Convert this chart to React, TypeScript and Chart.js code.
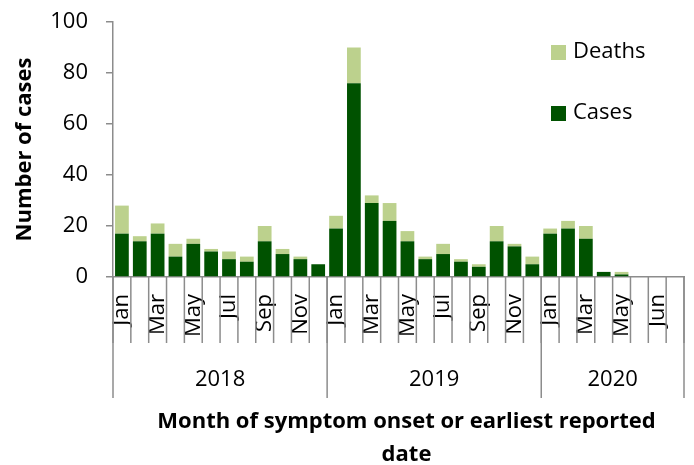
import React, { useEffect, useRef } from "react";
import { Chart, registerables } from "chart.js";

Chart.register(...registerables);

const monthLabels = [
  "Jan", "Feb", "Mar", "Apr", "May", "Jun", "Jul", "Aug", "Sep", "Oct", "Nov", "Dec",
  "Jan", "Feb", "Mar", "Apr", "May", "Jun", "Jul", "Aug", "Sep", "Oct", "Nov", "Dec",
  "Jan", "Feb", "Mar", "Apr", "May", "", "Jun", "",
];
const yearLabels = ["2018", "2019", "2020"];
const yearSpans = [12, 12, 8];

const cases = [
  17, 14, 17, 8, 13, 10, 7, 6, 14, 9, 7, 5,
  19, 76, 29, 22, 14, 7, 9, 6, 4, 14, 12, 5,
  17, 19, 15, 2, 1, 0, 0, 0,
];
const deaths = [
  11, 2, 4, 5, 2, 1, 3, 2, 6, 2, 1, 0,
  5, 14, 3, 7, 4, 1, 4, 1, 1, 6, 1, 3,
  2, 3, 5, 0, 1, 0, 0, 0,
];

const yTicks = { min: 0, max: 100, step: 20 };
const yTitle = "Number of cases";
const xTitle = ["Month of symptom onset or earliest reported", "date"];

const FONT = "'Open Sans', sans-serif";
const AXIS = "#8c8c8c";
const CASES_COLOR = "#005200";
const DEATHS_COLOR = "#bcd18d";

const groupPlugin = {
  id: "groupAxis",
  afterDraw(chart: any) {
    const ctx = chart.ctx;
    const xs = chart.scales.x;
    const area = chart.chartArea;
    const n = monthLabels.length;
    const catW = (xs.right - xs.left) / n;
    const base = area.bottom;
    ctx.save();
    ctx.strokeStyle = AXIS;
    ctx.lineWidth = 1.5;
    for (let i = 0; i <= n; i++) {
      const x = xs.left + i * catW;
      ctx.beginPath();
      ctx.moveTo(x, base);
      ctx.lineTo(x, base + 66);
      ctx.stroke();
    }
    ctx.fillStyle = "#000";
    ctx.font = `22px ${FONT}`;
    ctx.textAlign = "center";
    ctx.textBaseline = "middle";
    const bounds = [0];
    yearSpans.forEach((s) => bounds.push(bounds[bounds.length - 1] + s));
    bounds.forEach((b) => {
      const x = xs.left + b * catW;
      ctx.beginPath();
      ctx.moveTo(x, base);
      ctx.lineTo(x, base + 121);
      ctx.stroke();
    });
    yearLabels.forEach((y, k) => {
      const x0 = xs.left + bounds[k] * catW;
      const x1 = xs.left + bounds[k + 1] * catW;
      ctx.fillText(y, (x0 + x1) / 2, base + 103);
    });
    ctx.font = `bold 22px ${FONT}`;
    const cx = (area.left + area.right) / 2 + 8;
    xTitle.forEach((t, i) => {
      ctx.fillText(t, cx, base + 145 + i * 33);
    });
    ctx.font = `22px ${FONT}`;
    ctx.textAlign = "left";
    const items = [chart.data.datasets[1], chart.data.datasets[0]];
    items.forEach((ds: any, i: number) => {
      const lx = area.right - 133;
      const ly = area.top + 23 + i * 61;
      ctx.fillStyle = ds.backgroundColor;
      ctx.fillRect(lx, ly, 15, 15);
      ctx.fillStyle = "#000";
      ctx.fillText(ds.label, lx + 22, ly + 7);
    });
    ctx.restore();
  },
};

export default function App() {
  const ref = useRef<HTMLCanvasElement>(null);
  useEffect(() => {
    if (!ref.current) return;
    Chart.defaults.font.family = FONT;
    Chart.defaults.color = "#000";
    const chart = new Chart(ref.current, {
      type: "bar",
      data: {
        labels: monthLabels,
        datasets: [
          {
            label: "Cases",
            data: cases,
            backgroundColor: CASES_COLOR,
            barPercentage: 0.77,
            categoryPercentage: 1,
          },
          {
            label: "Deaths",
            data: deaths,
            backgroundColor: DEATHS_COLOR,
            barPercentage: 0.77,
            categoryPercentage: 1,
          },
        ],
      },
      options: {
        responsive: false,
        animation: false,
        layout: { padding: { top: 22, right: 10, left: 0, bottom: 0 } },
        plugins: { legend: { display: false }, tooltip: { enabled: false } },
        scales: {
          x: {
            stacked: true,
            afterFit: (s: any) => {
              s.height = 188;
              s.paddingLeft = 0;
              s.paddingRight = 0;
            },
            grid: { display: false, drawTicks: false },
            border: { display: true, color: AXIS, width: 1.5 },
            ticks: {
              autoSkip: false,
              minRotation: 90,
              maxRotation: 90,
              padding: 17,
              font: { size: 22, family: FONT },
              color: "#000",
              callback: (_v: any, i: number) => (i % 2 === 0 ? monthLabels[i] : ""),
            },
          },
          y: {
            stacked: true,
            min: yTicks.min,
            max: yTicks.max,
            afterFit: (s: any) => {
              s.width = 113;
              s.paddingTop = 0;
              s.paddingBottom = 0;
            },
            grid: { display: true, drawOnChartArea: false, drawTicks: true, tickLength: 7, color: AXIS, lineWidth: 1.5 },
            border: { display: true, color: AXIS, width: 1.5 },
            ticks: {
              stepSize: yTicks.step,
              padding: 18,
              font: { size: 22, family: FONT },
              color: "#000",
            },
            title: {
              display: true,
              text: yTitle,
              font: { size: 22, weight: "bold", family: FONT },
              color: "#000",
              padding: { top: 12, bottom: 0 },
            },
          },
        },
      },
      plugins: [groupPlugin],
    });
    return () => chart.destroy();
  }, []);
  return (
    <div style={{ position: "fixed", left: 0, top: 0, width: 694, height: 465, background: "#fff" }}>
      <canvas ref={ref} width={694} height={465} />
    </div>
  );
}
